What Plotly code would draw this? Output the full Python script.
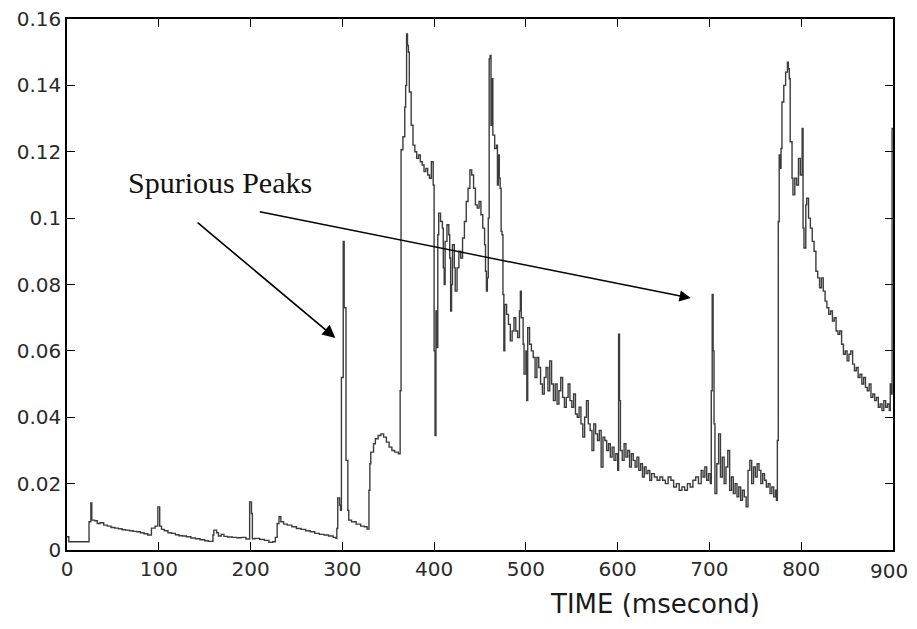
import plotly.graph_objects as go

# Time stamps (ms) and signal values
time_ms = [
    0, 2, 24, 26, 27, 30, 33, 36, 40, 44, 48, 52, 56, 60, 64, 68, 72, 76, 80, 84, 88,
    92, 96, 99, 101, 103, 106, 110, 114, 118, 122, 126, 130, 135, 140, 145, 150, 154,
    159, 160, 163, 165, 168, 171, 175, 180, 185, 190, 195, 199, 201, 202, 205, 210, 215,
    220, 224, 227, 229, 231, 233, 236, 240, 245, 250, 255, 260, 265, 270, 275, 280, 285,
    290, 293, 294, 295, 297, 298, 299, 301, 302, 304, 306, 307, 310, 315, 320, 324, 327,
    329, 330, 331, 334, 336, 339, 342, 345, 348, 351, 354, 357, 361, 363, 364, 366, 368,
    369, 370, 371, 372, 373, 375, 377, 379, 381, 383, 385, 387, 389, 391, 393, 395, 397,
    399, 400, 401, 402, 403, 404, 405, 407, 409, 410, 411, 412, 414, 416, 417, 418, 419,
    420, 422, 423, 425, 427, 429, 431, 433, 435, 437, 439, 441, 443, 445, 447, 449, 451,
    453, 455, 456, 457, 458, 459, 460, 461, 462, 463, 464, 466, 468, 469, 470, 471, 472,
    473, 474, 475, 476, 477, 479, 481, 483, 485, 487, 489, 491, 493, 494, 495, 497, 498,
    500, 501, 502, 504, 506, 508, 510, 512, 514, 516, 518, 520, 522, 524, 526, 528, 530,
    532, 534, 536, 538, 540, 542, 544, 546, 548, 550, 552, 554, 556, 558, 560, 562, 564,
    566, 568, 570, 572, 574, 576, 578, 580, 582, 584, 586, 588, 590, 592, 594, 596, 598,
    600, 601, 602, 603, 605, 607, 609, 611, 613, 615, 617, 619, 621, 623, 625, 627, 629,
    631, 633, 635, 637, 640, 643, 646, 649, 652, 655, 658, 661, 664, 667, 670, 673, 676,
    679, 682, 685, 688, 691, 693, 695, 697, 699, 701, 702, 703, 704, 705, 706, 708, 710,
    712, 714, 716, 718, 720, 722, 724, 726, 728, 730, 732, 734, 736, 738, 740, 742, 744,
    746, 748, 750, 752, 754, 756, 758, 760, 762, 764, 766, 768, 770, 772, 773, 774, 775,
    776, 777, 778, 779, 781, 783, 785, 786, 787, 788, 790, 791, 793, 795, 797, 799, 801,
    802, 803, 805, 806, 808, 810, 812, 814, 816, 818, 820, 822, 824, 826, 828, 830, 832,
    834, 836, 838, 840, 842, 844, 846, 848, 850, 852, 854, 856, 858, 860, 862, 864, 866,
    868, 870, 872, 874, 876, 878, 880, 882, 884, 886, 888, 890, 892, 894, 896, 897, 898,
    899, 900,
]

signal = [
    0.004, 0.0025, 0.0085, 0.0142, 0.009, 0.0088, 0.008, 0.0082, 0.0075, 0.0072, 0.0068,
    0.0066, 0.0064, 0.0061, 0.006, 0.0058, 0.0056, 0.0055, 0.0052, 0.0049, 0.0045,
    0.0066, 0.0072, 0.013, 0.0072, 0.0062, 0.0058, 0.0052, 0.005, 0.0046, 0.0043, 0.0042,
    0.004, 0.0036, 0.0034, 0.0031, 0.0028, 0.0026,
    0.0045, 0.006, 0.0052, 0.0042, 0.0047, 0.0041, 0.0039, 0.0038, 0.0037, 0.0038, 0.0033,
    0.0145, 0.011, 0.0034, 0.0035, 0.0032, 0.0029,
    0.0023, 0.0025, 0.0038, 0.008, 0.010, 0.0085, 0.0078, 0.0075, 0.007, 0.0065, 0.0062,
    0.0058, 0.0055, 0.005, 0.0047, 0.0045, 0.0042,
    0.0038, 0.0035, 0.0065, 0.0157, 0.0135, 0.012, 0.052, 0.093, 0.073, 0.027, 0.012,
    0.009, 0.0085, 0.0078, 0.0072, 0.007, 0.0063,
    0.018, 0.026, 0.0295, 0.032, 0.0335, 0.0345, 0.035, 0.034, 0.0325, 0.031, 0.030,
    0.0295, 0.029, 0.048, 0.1206, 0.1245, 0.1335,
    0.14, 0.1555, 0.152, 0.15, 0.138, 0.128, 0.122, 0.120, 0.118, 0.119, 0.117, 0.116,
    0.114, 0.115, 0.113, 0.112, 0.117,
    0.11, 0.06, 0.0345, 0.072, 0.061, 0.095, 0.1015, 0.099, 0.097, 0.085, 0.080, 0.093,
    0.098, 0.095, 0.088, 0.072, 0.080,
    0.092, 0.085, 0.078, 0.085, 0.090, 0.088, 0.094, 0.099, 0.105, 0.109, 0.1145, 0.113,
    0.109, 0.104, 0.103, 0.105, 0.101,
    0.097, 0.092, 0.084, 0.078, 0.082, 0.100, 0.148, 0.149, 0.128, 0.142, 0.125, 0.121,
    0.122, 0.110, 0.119, 0.112, 0.109,
    0.096, 0.095, 0.077, 0.060, 0.074, 0.071, 0.068, 0.063, 0.066, 0.070, 0.066, 0.064,
    0.072, 0.078, 0.070, 0.062, 0.053,
    0.060, 0.045, 0.067, 0.062, 0.060, 0.058, 0.052, 0.058, 0.055, 0.050, 0.047, 0.052,
    0.055, 0.048, 0.057, 0.050, 0.045,
    0.050, 0.044, 0.048, 0.052, 0.046, 0.043, 0.046, 0.050, 0.045, 0.043, 0.047, 0.041,
    0.040, 0.043, 0.038, 0.034, 0.040,
    0.045, 0.038, 0.036, 0.030, 0.038, 0.035, 0.033, 0.036, 0.025, 0.034, 0.033, 0.030,
    0.032, 0.028, 0.031, 0.027, 0.029,
    0.024, 0.065, 0.045, 0.030, 0.027, 0.032, 0.028, 0.030, 0.025, 0.029, 0.027, 0.025,
    0.028, 0.024, 0.026, 0.022, 0.025,
    0.023, 0.024, 0.021, 0.023, 0.022, 0.021, 0.022, 0.021, 0.020, 0.022, 0.021, 0.019,
    0.020, 0.018, 0.019, 0.018, 0.020,
    0.019, 0.021, 0.022, 0.020, 0.024, 0.022, 0.025, 0.021, 0.023, 0.020, 0.048, 0.077,
    0.060, 0.038, 0.017, 0.026, 0.035,
    0.022, 0.028, 0.020, 0.025, 0.030, 0.018, 0.022, 0.017, 0.020, 0.016, 0.019, 0.015,
    0.018, 0.016, 0.013, 0.024, 0.027,
    0.020, 0.025, 0.022, 0.026, 0.024, 0.020, 0.023, 0.021, 0.019, 0.020, 0.017, 0.019,
    0.016, 0.018, 0.015, 0.033, 0.099,
    0.119, 0.115, 0.121, 0.135, 0.140, 0.144, 0.147, 0.145, 0.142, 0.123, 0.112, 0.107,
    0.112, 0.110, 0.118, 0.113, 0.127,
    0.097, 0.091, 0.104, 0.106, 0.100, 0.097, 0.093, 0.090, 0.084, 0.082, 0.079, 0.082,
    0.078, 0.075, 0.073, 0.071, 0.072,
    0.069, 0.070, 0.066, 0.065, 0.066, 0.062, 0.059, 0.060, 0.057, 0.059, 0.060, 0.056,
    0.054, 0.055, 0.052, 0.053, 0.050,
    0.052, 0.049, 0.048, 0.050, 0.046, 0.047, 0.045, 0.046, 0.043, 0.044, 0.042, 0.045,
    0.043, 0.044, 0.042, 0.050, 0.047,
    0.127, 0.127,
]

x_ticks = [0, 100, 200, 300, 400, 500, 600, 700, 800, 900]
x_tick_labels = ["0", "100", "200", "300", "400", "500", "600", "700", "800", "900"]
y_ticks = [0, 0.02, 0.04, 0.06, 0.08, 0.1, 0.12, 0.14, 0.16]
y_tick_labels = ["0", "0.02", "0.04", "0.06", "0.08", "0.1", "0.12", "0.14", "0.16"]

tick_font = dict(family="DejaVu Sans", size=20, color="#2a2a2a")

fig = go.Figure()
fig.add_trace(go.Scatter(
    x=time_ms, y=signal, mode="lines",
    line=dict(color="#3c3c3c", width=1.4, shape="hv"),
    showlegend=False, hoverinfo="skip",
))

axis_common = dict(
    showgrid=False, zeroline=False, showline=True, linecolor="black", linewidth=1.6,
    mirror="ticks", ticks="inside", ticklen=8, tickwidth=1.4, tickcolor="black",
    tickfont=tick_font, automargin=False, ticklabeloverflow="allow",
)

# The last x label sits at the very edge of the page; it is drawn as an
# annotation right-aligned to the visible area so it is not clipped.
fig.update_xaxes(range=[0, 900], tickvals=x_ticks,
                 ticktext=x_tick_labels[:-1] + [""], **axis_common)
fig.update_yaxes(range=[0, 0.16], tickvals=y_ticks, ticktext=y_tick_labels,
                 **axis_common)
fig.add_annotation(x=1.0194, y=-0.0395, xref="paper", yref="paper",
                   text=x_tick_labels[-1], showarrow=False, xanchor="right",
                   yanchor="middle", font=tick_font, borderpad=0)

# "Spurious Peaks" label and its two arrows
fig.add_annotation(x=64, y=0.1107, xref="x", yref="y", text="Spurious Peaks",
                   showarrow=False, xanchor="left", yanchor="middle",
                   font=dict(family="Liberation Serif", size=30, color="#111111"))
fig.add_annotation(x=292.4, y=0.0639, ax=140.7, ay=0.099, xref="x", yref="y",
                   axref="x", ayref="y", text="", showarrow=True, arrowhead=2,
                   arrowsize=1.6, arrowwidth=1.6, arrowcolor="black", standoff=0)
fig.add_annotation(x=679.6, y=0.0759, ax=208.4, ay=0.102, xref="x", yref="y",
                   axref="x", ayref="y", text="", showarrow=True, arrowhead=2,
                   arrowsize=1.6, arrowwidth=1.4, arrowcolor="black", standoff=0)

# Axis title placed off-centre as in the reference
fig.add_annotation(x=641, y=-0.1017, xref="x", yref="paper", text="TIME (msecond)",
                   showarrow=False, xanchor="center", yanchor="middle",
                   font=dict(family="DejaVu Sans", size=26, color="#1a1a1a"))

# The page body adds an 8px offset, so the figure is sized to keep the plot area
# at the same place in the 917x629 window.
fig.update_layout(
    width=909, height=613,
    margin=dict(l=59, r=24, t=11, b=71),
    paper_bgcolor="white", plot_bgcolor="white",
)

fig.write_html("out.html")
